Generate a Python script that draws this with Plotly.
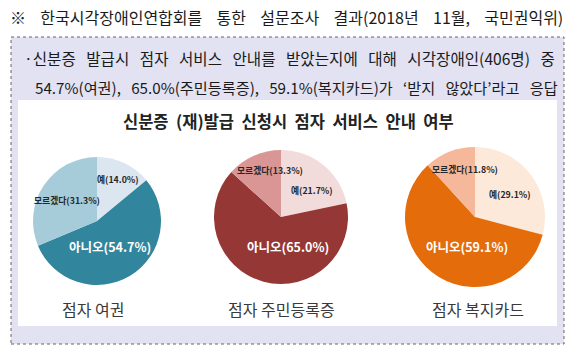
import plotly.graph_objects as go

W, H = 570, 346

# ---- data ----
categories = ["예", "아니오", "모르겠다"]
passport = [14.0, 54.7, 31.3]
resident = [21.7, 65.0, 13.3]
welfare = [29.1, 59.1, 11.8]
pie_titles = ["점자 여권", "점자 주민등록증", "점자 복지카드"]
chart_title = "신분증 (재)발급 신청시 점자 서비스 안내 여부"
header = "※ 한국시각장애인연합회를 통한 설문조사 결과(2018년 11월, 국민권익위)"
bullet1 = "·신분증 발급시 점자 서비스 안내를 받았는지에 대해 시각장애인(406명) 중"
bullet2 = "54.7%(여권), 65.0%(주민등록증), 59.1%(복지카드)가 ‘받지 않았다’라고 응답"

series = [passport, resident, welfare]
colors = [
    ["#dce6f0", "#31859c", "#a6cbd9"],
    ["#f2dcdb", "#953735", "#d99694"],
    ["#fde9d9", "#e46c0a", "#f6b89b"],
]
# pie centre (px) and radius (px)
geom = [(97, 221, 64), (281, 217, 67), (475, 217, 70)]
# label positions (px) per category for each pie
label_pos = [
    [(118, 179), (110, 247), (67, 200)],
    [(312, 190), (288, 247), (270, 171)],
    [(510, 194), (467, 247), (465, 169)],
]
title_pos = [(93, 309), (281, 309), (478, 309)]

FONT = "Noto Sans CJK KR"


def px(x):
    return x / W


def py(y):
    return 1 - y / H


def spaced(s, n=2):
    return s.replace(" ", "\u00a0" * n)


fig = go.Figure()
annotations = []
for i, vals in enumerate(series):
    cx, cy, r = geom[i]
    fig.add_trace(go.Pie(
        labels=categories, values=vals, sort=False, direction="clockwise",
        rotation=0, marker=dict(colors=colors[i], line=dict(width=0)),
        textinfo="none", hoverinfo="skip", showlegend=False,
        domain=dict(x=[px(cx - r), px(cx + r)], y=[py(cy + r), py(cy - r)]),
    ))
    for j, cat in enumerate(categories):
        lx, ly = label_pos[i][j]
        big = cat == "아니오"
        annotations.append(dict(
            x=px(lx), y=py(ly), xref="paper", yref="paper",
            text=f"<b>{cat}({vals[j]:.1f}%)</b>", showarrow=False,
            font=dict(family=FONT, size=12.5 if big else 8.8,
                      color="white" if big else "#262626"),
            xanchor="center", yanchor="middle",
        ))
    tx, ty = title_pos[i]
    annotations.append(dict(
        x=px(tx), y=py(ty), xref="paper", yref="paper",
        text=pie_titles[i], showarrow=False,
        font=dict(family=FONT, size=16, color="#3a3a3a"),
        xanchor="center", yanchor="middle",
    ))

annotations.append(dict(
    x=px(288), y=py(121), xref="paper", yref="paper",
    text=f"<b>{spaced(chart_title, 2)}</b>", showarrow=False,
    font=dict(family=FONT, size=16.5, color="#222222"),
    xanchor="center", yanchor="middle",
))
annotations.append(dict(
    x=px(8), y=py(17), xref="paper", yref="paper",
    text=spaced(header, 4), showarrow=False,
    font=dict(family=FONT, size=16, color="#1a1a1a"),
    xanchor="left", yanchor="middle",
))
annotations.append(dict(
    x=px(22), y=py(58), xref="paper", yref="paper",
    text=spaced(bullet1, 3), showarrow=False,
    font=dict(family=FONT, size=15.6, color="#1a1a1a"),
    xanchor="left", yanchor="middle",
))
annotations.append(dict(
    x=px(33), y=py(87), xref="paper", yref="paper",
    text=spaced(bullet2, 3), showarrow=False,
    font=dict(family=FONT, size=15.2, color="#1a1a1a"),
    xanchor="left", yanchor="middle",
))

shapes = [
    dict(type="rect", xref="paper", yref="paper", layer="below",
         x0=px(11), x1=px(564), y0=py(344), y1=py(37),
         fillcolor="#e2e2f2", line=dict(color="#666666", width=1, dash="dot")),
    dict(type="rect", xref="paper", yref="paper", layer="below",
         x0=px(18), x1=px(557), y0=py(326), y1=py(100),
         fillcolor="white", line=dict(width=0)),
]

fig.update_layout(
    width=W, height=H, margin=dict(l=0, r=0, t=0, b=0),
    paper_bgcolor="white", plot_bgcolor="white",
    annotations=annotations, shapes=shapes,
)
fig.write_html("out.html")
